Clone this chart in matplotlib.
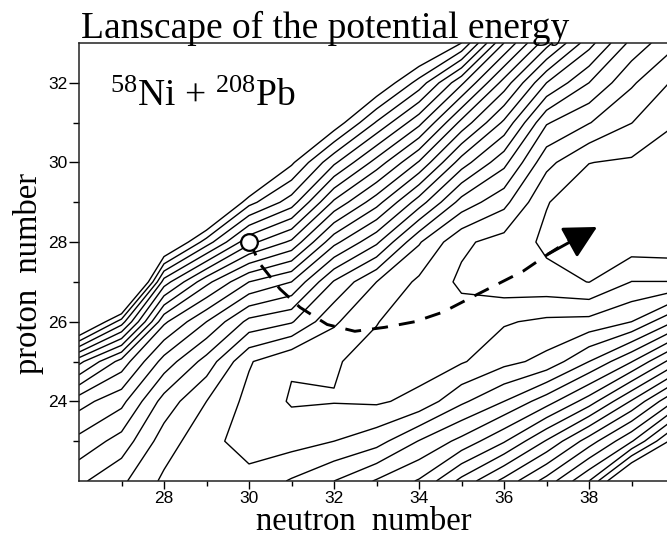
import numpy as np
import matplotlib
matplotlib.use("Agg")
import matplotlib.pyplot as plt

plt.rcParams['mathtext.fontset'] = 'custom'
plt.rcParams['mathtext.rm'] = 'Liberation Serif'
plt.rcParams['mathtext.it'] = 'Liberation Serif:italic'
plt.rcParams['mathtext.bf'] = 'Liberation Serif:bold'

# grid of the landscape (neutron number N, proton number Z)
neutron = np.arange(26, 41)
proton = np.arange(22, 34)
# potential energy (in contour-step units), rows: Z = 22..33, columns: N = 26..40
energy = np.array([
    [7.2, 6.2, 4.8, 4.5, 4.3, 5.1, 6.0, 7.1, 8.1, 10.3, 12.3, 14.4, 17.0, 21.6, 23.0],
    [8.7, 7.6, 5.5, 4.3, 3.6, 3.6, 4.0, 4.6, 6.05, 7.3, 8.9, 11.1, 13.5, 15.9, 19.45],
    [10.4, 9.3, 6.6, 5.0, 3.7, 2.9, 2.95, 2.85, 3.3, 4.8, 6.0, 7.55, 9.5, 12.1, 15.0],
    [14.3, 11.6, 8.6, 6.6, 4.1, 3.1, 3.1, 2.6, 2.5, 2.9, 3.7, 4.3, 6.0, 7.95, 10.5],
    [21.5, 17.5, 11.2, 9.0, 6.7, 6.1, 4.15, 3.05, 2.3, 2.5, 2.9, 3.2, 3.3, 4.0, 6.0],
    [28.0, 25.0, 15.5, 12.3, 10.0, 9.0, 5.9, 4.0, 2.8, 1.8, 1.4, 1.3, 0.98, 2.02, 2.02],
    [34.0, 31.0, 21.0, 17.5, 14.3, 12.8, 9.3, 7.2, 4.1, 2.2, 1.6, 0.8, 0.5, 0.4, 0.3],
    [40.0, 37.0, 27.0, 22.5, 18.35, 16.5, 12.8, 10.4, 7.5, 4.6, 3.3, 1.05, 0.4, 0.3, 0.2],
    [46.0, 43.0, 33.0, 28.0, 23.0, 19.2, 16.2, 13.6, 10.9, 7.5, 5.3, 2.3, 1.02, 0.85, 0.5],
    [52.0, 49.0, 39.0, 34.0, 28.0, 25.0, 19.7, 16.9, 14.3, 10.7, 7.8, 4.1, 3.05, 2.02, 1.05],
    [58.0, 55.0, 45.0, 40.0, 33.0, 30.0, 25.0, 20.1, 17.6, 14.2, 10.6, 7.0, 5.0, 3.15, 1.85],
    [64.0, 61.0, 51.0, 46.0, 38.0, 35.0, 30.0, 24.0, 21.0, 19.0, 14.0, 10.4, 7.4, 4.7, 3.2],
])
levels = np.arange(1, 20)

# reaction path (dashed) and entrance point
path_n = [30.0, 30.26, 30.73, 31.2, 31.84, 32.49, 33.2, 33.9, 34.56, 35.25, 35.84, 36.45, 37.04, 37.6]
path_z = [28.03, 27.45, 26.82, 26.36, 25.93, 25.76, 25.86, 26.0, 26.24, 26.62, 26.94, 27.27, 27.7, 28.08]
arrow_tip = (38.19, 28.38)
entrance = (30.0, 28.0)

xticks_major = [28, 30, 32, 34, 36, 38]
yticks_major = [24, 26, 28, 30, 32]

W, H = 667, 538
fig = plt.figure(figsize=(W / 100, H / 100), dpi=100)
ax = fig.add_axes([79 / W, (H - 481) / H, (674 - 79) / W, (481 - 43) / H])

ax.contour(neutron, proton, energy, levels=levels, colors='black', linewidths=1.0)

ax.plot(path_n, path_z, color='black', lw=2.1, linestyle=(0, (5.5, 3.8)), zorder=4,
        dash_capstyle='butt')
ax.annotate('', xy=arrow_tip, xytext=(path_n[-2], path_z[-2]),
            arrowprops=dict(arrowstyle='-|>,head_length=0.8,head_width=0.42',
                            mutation_scale=25, facecolor='black', edgecolor='black',
                            lw=2.1, shrinkA=0, shrinkB=0), zorder=5)
ax.plot([entrance[0]], [entrance[1]], marker='o', markersize=12, markerfacecolor='white',
        markeredgecolor='black', markeredgewidth=1.6, zorder=6, linestyle='none')

ax.set_xlim(26, 40)
ax.set_ylim(22, 33)
ax.set_xticks(xticks_major)
ax.set_xticks(np.arange(27, 40, 2), minor=True)
ax.set_yticks(yticks_major)
ax.set_yticks(np.arange(23, 33, 2), minor=True)
ax.tick_params(which='both', direction='out', width=1.0, labelsize=12.5)
ax.tick_params(axis='x', which='major', length=5.5, pad=1.5)
ax.tick_params(axis='x', which='minor', length=3.5)
ax.tick_params(axis='y', which='major', length=7, pad=1.5)
ax.tick_params(axis='y', which='minor', length=4)
for lab in ax.get_xticklabels() + ax.get_yticklabels():
    lab.set_fontfamily('Liberation Sans')
for s in ax.spines.values():
    s.set_linewidth(1.1)
    s.set_color('#222222')

ax.text(26.73, 31.41, r'$^{\mathrm{58}}$Ni + $^{\mathrm{208}}$Pb', fontsize=27,
        family='Liberation Serif', va='baseline', ha='left')

fig.text(81 / W, 1 - 38 / H, 'Lanscape of the potential energy', fontsize=27,
         family='Liberation Serif', ha='left', va='baseline')
fig.text(364 / W, 1 - 530 / H, 'neutron  number', fontsize=23.5,
         family='Liberation Serif', ha='center', va='baseline')
fig.text(37 / W, 1 - 273 / H, 'proton  number', fontsize=23.5, rotation=90,
         rotation_mode='anchor', family='Liberation Serif', ha='center', va='baseline')

fig.savefig('out.png', dpi=100)
